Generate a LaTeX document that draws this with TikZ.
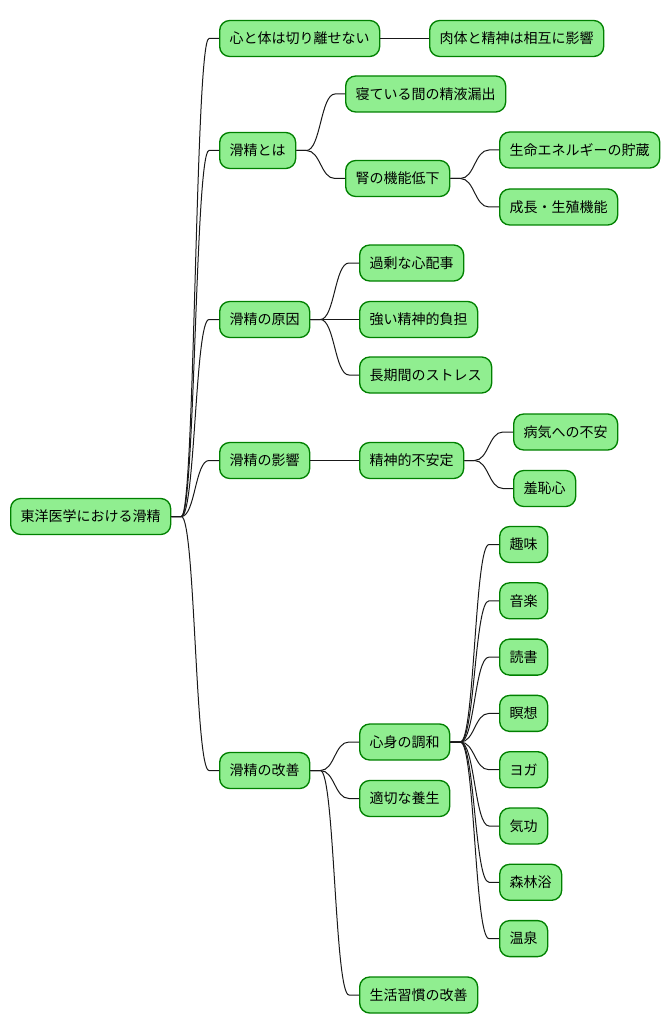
\documentclass[tikz,border=0pt]{standalone}
\usepackage{fontspec}
\newfontfamily\jpfont{Noto Sans CJK JP}
\usetikzlibrary{calc}
\tikzset{
  mm/.style={draw=green!50!black, line width=1pt, fill=lightgreenfill, rounded corners=7.5pt,
    inner xsep=7.5pt, inner ysep=0pt, minimum height=27pt, anchor=west,
    font=\jpfont\fontsize{10.5pt}{12pt}\selectfont, text=black},
  conn/.style={draw=black!90, line width=0.75pt}
}
\definecolor{lightgreenfill}{HTML}{90EE90}
\newcommand\mmconn[2]{%
  \path (#1.east) ++(10,0) coordinate (cs);
  \path (#2.west) ++(-10,0) coordinate (ce);
  \path ($(cs)!0.5!(ce)$) coordinate (cm);
  \draw[conn] (#1.east) -- (cs) .. controls (cm |- cs) and (cm |- ce) .. (ce) -- (#2.west);
}
\begin{document}
\begin{tikzpicture}[x=0.75pt,y=-0.75pt]
\useasboundingbox (0,0) rectangle (670,1034);
\node[mm] (root) at (10,516.5) {東洋医学における滑精};
\node[mm] (a1) at (219,38.5) {心と体は切り離せない};
\node[mm] (a2) at (219,150.5) {滑精とは};
\node[mm] (a3) at (219,319.5) {滑精の原因};
\node[mm] (a4) at (219,460.5) {滑精の影響};
\node[mm] (a5) at (219,770.5) {滑精の改善};
\node[mm] (b1) at (429,38.5) {肉体と精神は相互に影響};
\node[mm] (b2) at (345,94) {寝ている間の精液漏出};
\node[mm] (b3) at (345,178.5) {腎の機能低下};
\node[mm] (c1) at (499,150) {生命エネルギーの貯蔵};
\node[mm] (c2) at (499,207) {成長・生殖機能};
\node[mm] (b4) at (359,263) {過剰な心配事};
\node[mm] (b5) at (359,319.5) {強い精神的負担};
\node[mm] (b6) at (359,375) {長期間のストレス};
\node[mm] (b7) at (359,460.5) {精神的不安定};
\node[mm] (c3) at (513,432) {病気への不安};
\node[mm] (c4) at (513,488.5) {羞恥心};
\node[mm] (b8) at (359,742) {心身の調和};
\node[mm] (b9) at (359,798.5) {適切な養生};
\node[mm] (b10) at (359,995) {生活習慣の改善};
\node[mm] (d1) at (499,544.5) {趣味};
\node[mm] (d2) at (499,600.8) {音楽};
\node[mm] (d3) at (499,657.1) {読書};
\node[mm] (d4) at (499,713.4) {瞑想};
\node[mm] (d5) at (499,769.7) {ヨガ};
\node[mm] (d6) at (499,826) {気功};
\node[mm] (d7) at (499,882.3) {森林浴};
\node[mm] (d8) at (499,938.6) {温泉};
\mmconn{root}{a1}
\mmconn{root}{a2}
\mmconn{root}{a3}
\mmconn{root}{a4}
\mmconn{root}{a5}
\mmconn{a1}{b1}
\mmconn{a2}{b2}
\mmconn{a2}{b3}
\mmconn{b3}{c1}
\mmconn{b3}{c2}
\mmconn{a3}{b4}
\mmconn{a3}{b5}
\mmconn{a3}{b6}
\mmconn{a4}{b7}
\mmconn{b7}{c3}
\mmconn{b7}{c4}
\mmconn{a5}{b8}
\mmconn{a5}{b9}
\mmconn{a5}{b10}
\mmconn{b8}{d1}
\mmconn{b8}{d2}
\mmconn{b8}{d3}
\mmconn{b8}{d4}
\mmconn{b8}{d5}
\mmconn{b8}{d6}
\mmconn{b8}{d7}
\mmconn{b8}{d8}
\end{tikzpicture}
\end{document}
